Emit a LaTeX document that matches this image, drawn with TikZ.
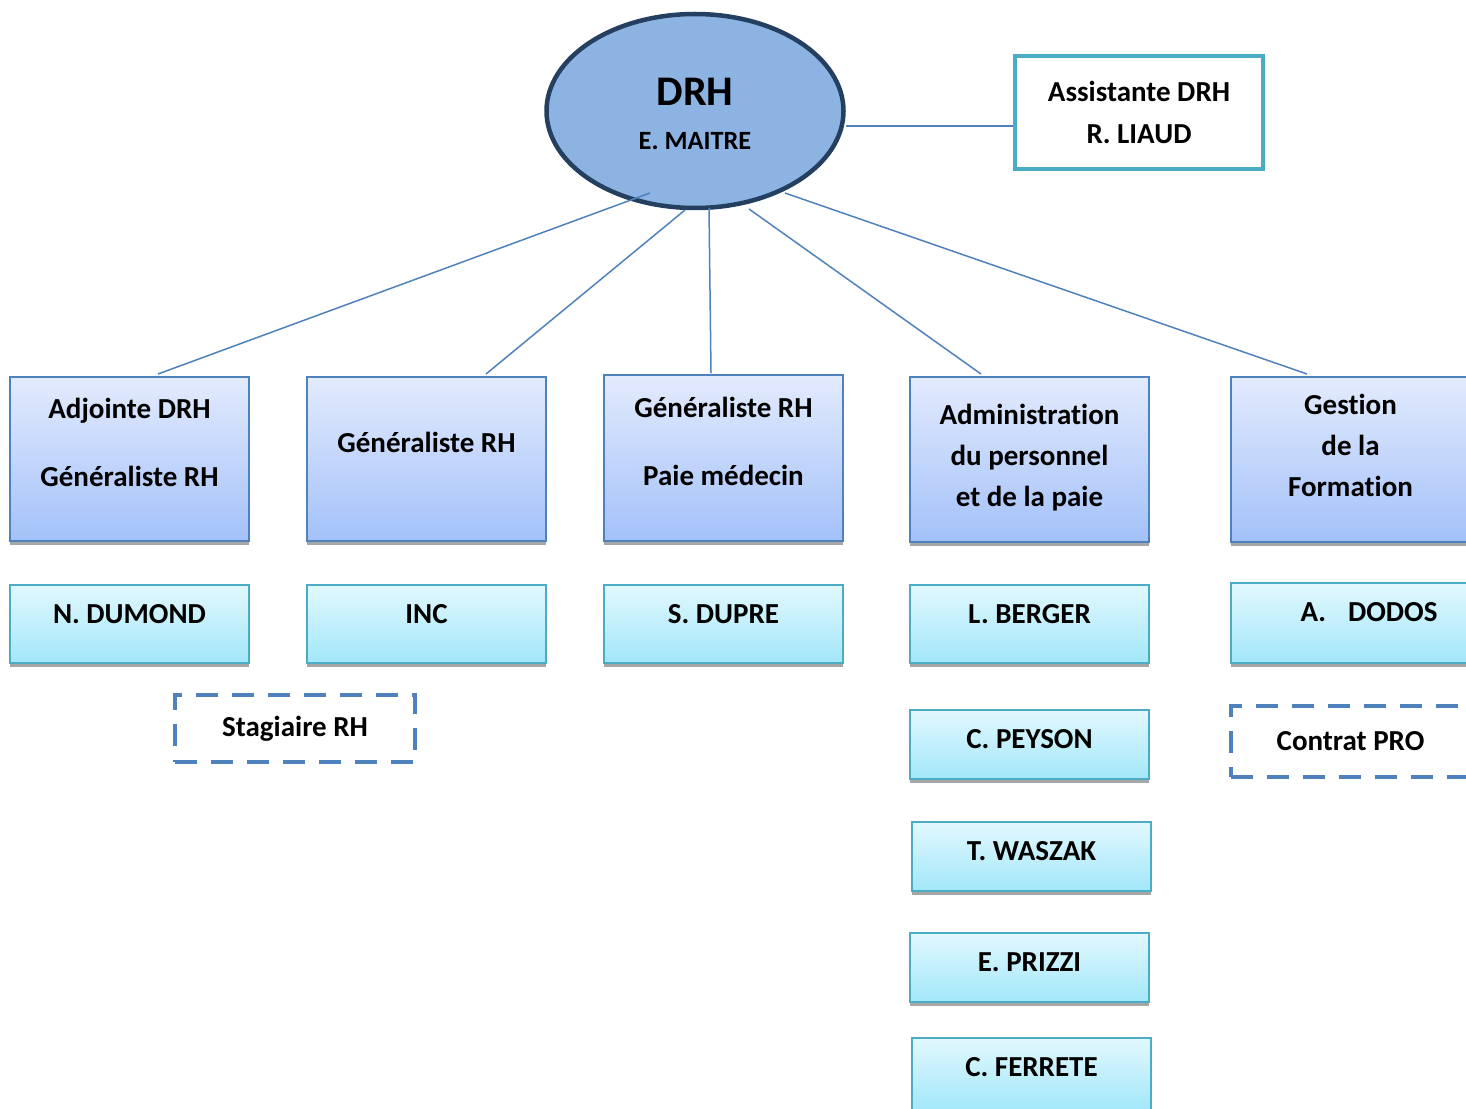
\documentclass[tikz,border=0pt]{standalone}
\usepackage{fontspec}
\setmainfont[Ligatures=NoCommon]{Carlito}
\usetikzlibrary{shapes, calc, shadows, positioning}

\definecolor{drhfill}{HTML}{8DB3E2}
\definecolor{drhline}{HTML}{243F60}
\definecolor{boxline}{HTML}{4F81BD}
\definecolor{bluetop}{HTML}{E3EBFD}
\definecolor{bluebot}{HTML}{A3C1F9}
\definecolor{cyanline}{HTML}{4BACC6}
\definecolor{cyantop}{HTML}{E2F8FE}
\definecolor{cyanbot}{HTML}{A2E7F9}

\newlength{\px}\setlength{\px}{0.02cm}

\tikzset{
    boxshadow/.style={drop shadow={shadow xshift=0pt, shadow yshift=-4\px, fill=black!35, opacity=1}},
    service/.style={draw=boxline, line width=1.5\px, top color=bluetop, bottom color=bluebot, inner sep=0pt, text width=239\px, align=flush center, anchor=north, boxshadow},
    person/.style={draw=cyanline, line width=1.5\px, top color=cyantop, bottom color=cyanbot, inner sep=0pt, minimum width=239\px, text height=39\px, anchor=north, boxshadow},
    temp/.style={draw=boxline, line width=4\px, dash pattern=on 22\px off 14\px, inner sep=0pt, minimum width=240\px},
    link/.style={draw=boxline, line width=1.5\px}
}

\begin{document}
\begin{tikzpicture}[x=0.02cm, y=-0.02cm, font=\bfseries\fontsize{16.5}{23.2}\selectfont]
    \useasboundingbox (0,0) rectangle (1466,1108);
    \clip (0,0) rectangle (1466,1108);

    \node[ellipse, draw=drhline, fill=drhfill, line width=4.5\px, minimum width=297\px, minimum height=194\px, align=center, inner sep=0pt] (drh) at (695,111) {{\fontsize{24}{28}\selectfont\rule{0pt}{33\px}DRH}\\[1.5pt]{\fontsize{15}{18}\selectfont E. MAITRE}};
    \node[draw=cyanline, line width=4\px, minimum width=248\px, minimum height=113\px, align=center, font=\bfseries\fontsize{16.5}{23.8}\selectfont] (asst) at (1139,112.5) {Assistante DRH\\R. LIAUD};

    \node[service, text height=42\px, text depth=122\px] (adj) at (129.5,376) {Adjointe DRH\\[15.4pt]Généraliste RH};
    \node[service, text height=76\px, text depth=88\px] (gen) at (426.5,376) {Généraliste RH};
    \node[service, text height=43\px, text depth=123\px] (paie) at (723.5,374) {Généraliste RH\\[15.4pt]Paie médecin};
    \node[service, text height=48\px, text depth=117\px] (admin) at (1029.5,376) {Administration\\du personnel\\et de la paie};
    \node[service, text height=38\px, text depth=127\px] (form) at (1350.5,376) {Gestion\\de la\\Formation};

    \node[person, text depth=39\px] (dumond) at (129.5,584) {N. DUMOND};
    \node[person, text depth=39\px] (inc) at (426.5,584) {INC};
    \node[person, text depth=39\px] (dupre) at (723.5,584) {S. DUPRE};
    \node[person, text depth=39\px] (berger) at (1029.5,584) {L. BERGER};
    \node[person, text depth=41\px] (dodos) at (1350.5,582) {\hspace*{37\px}A.\hspace{22\px}DODOS};
    \node[person, text depth=30\px] (peyson) at (1029.5,709) {C. PEYSON};
    \node[person, text depth=30\px] (waszak) at (1031.5,821) {T. WASZAK};
    \node[person, text depth=30\px] (prizzi) at (1029.5,932) {E. PRIZZI};
    \node[person, text depth=33\px] (ferrete) at (1031.5,1037) {C. FERRETE};

    \node[temp, minimum height=67\px] (stagiaire) at (295,728.5) {Stagiaire RH};
    \node[temp, minimum height=71\px] (contrat) at (1350.5,741.5) {Contrat PRO};

    \draw[link] ($(drh.center)+(-45,82)$) -- ($(adj.north)+(28.5,-2)$);
    \draw[link] ($(drh.center)+(-10,99)$) -- ($(gen.north)+(59.5,-2)$);
    \draw[link] ($(drh.center)+(14,97)$) -- ($(paie.north)+(-12.5,-1)$);
    \draw[link] ($(drh.center)+(54,98)$) -- ($(admin.north)+(-48.5,-2)$);
    \draw[link] ($(drh.center)+(90,82)$) -- ($(form.north)+(-43.5,-2)$);
    \coordinate (asstin) at ($(asst.west)+(0,13.5)$);
    \draw[link] (asstin) -- (asstin -| drh.east);
\end{tikzpicture}
\end{document}
